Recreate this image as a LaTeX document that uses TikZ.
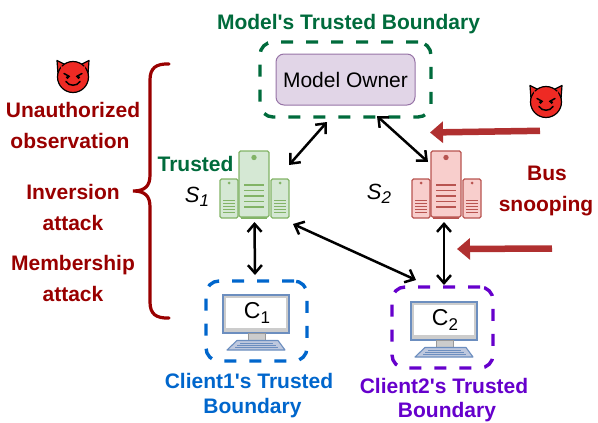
\documentclass[tikz,border=0pt]{standalone}
\usepackage{fontspec}
\setmainfont{Liberation Sans}
\newfontfamily\lib{Liberation Sans}
\usetikzlibrary{arrows.meta,calc}
\definecolor{gb}{HTML}{006B3C}
\definecolor{bb}{HTML}{0066CC}
\definecolor{pb}{HTML}{6600CC}
\definecolor{rt}{HTML}{990000}
\definecolor{gfill}{HTML}{D5E8D4}
\definecolor{gline}{HTML}{82B366}
\definecolor{rfill}{HTML}{F8CECC}
\definecolor{rline}{HTML}{B85450}
\definecolor{pfill}{HTML}{E1D5E7}
\definecolor{pline}{HTML}{9673A6}
\definecolor{mgray}{HTML}{CCCCCC}
\definecolor{kfill}{HTML}{BEC8DE}
\definecolor{mline}{HTML}{6C8EBF}
\definecolor{devilred}{HTML}{EE2A24}
\definecolor{attack}{HTML}{B03030}
\tikzset{
  lbl/.style={font=\bfseries\fontsize{#1}{#1}\selectfont,inner sep=0pt,align=center,anchor=center,text height=15pt,text depth=1pt},
  bound/.style={draw=#1,line width=3.4pt,dash pattern=on 12pt off 13pt,rounded corners=13pt,inner sep=0pt,outer sep=0pt},
  area/.style={inner sep=0pt,outer sep=0pt},
  link/.style={{Straight Barb[length=8pt,width=14pt]}-{Straight Barb[length=8pt,width=14pt]},line width=2.5pt,black},
  attackarrow/.style={line width=6.5pt,attack,-{Triangle[length=13pt,width=21pt]}},
  pics/server/.style n args={2}{code={
    \fill[#2] (21,62) rectangle (47,68);
    \draw[fill=#1,draw=#2,line width=1.2pt,rounded corners=1.5pt] (19,0) rectangle (49,66);
    \draw[fill=#1,draw=#2,line width=1.2pt,rounded corners=1.5pt] (0,28) rectangle (18,67);
    \draw[fill=#1,draw=#2,line width=1.2pt,rounded corners=1.5pt] (51,28) rectangle (69,67);
    \fill[#2] (34,6.5) circle (2.7);
    \fill[#2] (9,32) circle (1.5);
    \fill[#2] (60,32) circle (1.5);
    \foreach \yy in {34,39.5,45,50.5,56} \draw[#2,line width=1.2pt] (24,\yy) -- (44,\yy);
    \foreach \yy in {49,52.2,55.4,58.6,61.8} {\draw[#2,line width=.8pt] (3,\yy) -- (15,\yy); \draw[#2,line width=.8pt] (54,\yy) -- (66,\yy);}
  }},
  pics/computer/.style={code={
    \draw[fill=mgray,draw=mline,line width=1.2pt] (0,0) rectangle (66,38);
    \fill[white] (3,3) rectangle (63,33);
    \draw[fill=mgray,draw=gray!80,line width=.8pt] (25,38) rectangle (42,45.5);
    \draw[fill=kfill,draw=mline,line width=1.1pt,line join=round] (14,45.5) -- (55,45.5) -- (62,55) -- (4,55) -- cycle;
    \foreach \yy/\aa/\bb in {48/17/50,50.5/14/53,52.8/12/55}
      \draw[mline,line width=.7pt] (\aa,\yy) -- (\bb,\yy);
  }},
  pics/devil/.style={code={
    \draw[fill=devilred,draw=black,line width=1.2pt,line join=round]
      (-16,-16.5) -- (-8,-12.5) -- (8,-12.5) -- (16,-16.5) -- (15,-3) -- (8,-3) -- (-8,-3) -- (-15,-3) -- cycle;
    \draw[fill=devilred,draw=black,line width=1.2pt] (0,0) circle (15.5);
    \fill[devilred] (-12,-11) -- (-7,-8) -- (7,-8) -- (12,-11) -- (12,-4) -- (-12,-4) -- cycle;
    \draw[line width=1.5pt,black,line cap=round] (-9,-3.5) -- (-3.5,-.5);
    \draw[line width=1.5pt,black,line cap=round] (9,-3.5) -- (3.5,-.5);
    \fill[black] (-5.5,.3) circle (1.7);
    \fill[black] (5.5,.3) circle (1.7);
    \draw[line width=1.5pt,black,line cap=round] (-7,4.5) .. controls (-4,9.5) and (4,9.5) .. (7,4.5);
  }}
}
\begin{document}
\begin{tikzpicture}[x=1pt,y=-1pt]
\lib
\useasboundingbox (0,0) rectangle (598,423);
% areas
\node[bound=gb,minimum width=171pt,minimum height=75pt] (modelb) at (345.5,79.5) {};
\node[draw=pline,fill=pfill,line width=1pt,rounded corners=8pt,minimum width=139pt,minimum height=51pt,inner sep=0pt,font=\fontsize{21}{21}\selectfont] (owner) at (345.5,79.5) {Model Owner};
\node[bound=bb,minimum width=101pt,minimum height=80pt] (c1b) at (256.5,321) {};
\node[bound=pb,minimum width=101pt,minimum height=81pt] (c2b) at (442.5,327.5) {};
\node[area,minimum width=69pt,minimum height=68pt] (s1) at (254.5,185) {};
\node[area,minimum width=69pt,minimum height=68pt] (s2) at (446.5,185) {};
% servers
\pic at (220,151) {server={gfill}{gline}};
\pic at (412,151) {server={rfill}{rline}};
% computers
\pic at (223,295) {computer};
\pic at (411,302) {computer};
\node[inner sep=0pt,font=\fontsize{23}{23}\selectfont] (c1) at (257,313) {C{\fontsize{17}{17}\selectfont\raisebox{-5pt}{1}}};
\node[inner sep=0pt,font=\fontsize{23}{23}\selectfont] (c2) at (445,320) {C{\fontsize{17}{17}\selectfont\raisebox{-5pt}{2}}};
% connectors
\draw[link] ([shift={(0,3)}]s1.south) -- ([shift={(-1.5,-6)}]c1b.north);
\draw[link] ([shift={(-2.5,3)}]s2.south) -- ([shift={(1.5,-2)}]c2b.north);
\draw[link] ([shift={(0,14)}]s1.north east) -- ([shift={(-18.5,5)}]modelb.south);
\draw[link] ([shift={(16,11)}]s2.north west) -- ([shift={(31.5,-1)}]modelb.south);
\draw[link] ([shift={(4,5)}]s1.south east) -- ([shift={(24,-7)}]c2b.north west);
% attack arrows
\coordinate (t1) at (540,130.8);
\coordinate (h1) at (430,132.5);
\coordinate (t2) at (552,248.5);
\coordinate (h2) at (457,249);
\draw[attackarrow] (t1) -- (h1);
\draw[attackarrow] (t2) -- (h2);
% brace
\draw[rt,line width=3.2pt,line cap=round] (169,64) .. controls (156,63.5) and (150,68) .. (150,80) -- (150,175)
  .. controls (150,186) and (145,191) .. (133,191) .. controls (145,191) and (150,196) .. (150,207) -- (150,302)
  .. controls (150,314) and (156,318.5) .. (169,318);
% devils
\pic at (73,77) {devil};
\pic at (546,102) {devil};
% labels
\node[lbl=21,text=gb] (t0) at (348.5,23) {Model's Trusted Boundary};
\node[lbl=21,text=rt] (a1) at (73,110) {Unauthorized};
\node[lbl=21,text=rt] (a2) at (70,141) {observation};
\node[lbl=21,text=rt] (a3) at (73,192) {Inversion};
\node[lbl=21,text=rt] (a4) at (73,223) {attack};
\node[lbl=21,text=rt] (a5) at (73,263) {Membership};
\node[lbl=21,text=rt] (a6) at (73,294) {attack};
\node[lbl=21,text=gb] (tr) at (195.5,164) {Trusted};
\node[inner sep=0pt,font=\itshape\fontsize{22}{22}\selectfont] (sl1) at (197,197) {S{\fontsize{17}{17}\selectfont\raisebox{-4pt}{1}}};
\node[inner sep=0pt,font=\itshape\fontsize{22}{22}\selectfont] (sl2) at (379,194) {S{\fontsize{17}{17}\selectfont\raisebox{-4pt}{2}}};
\node[lbl=21,text=rt] (b1) at (547,173) {Bus};
\node[lbl=21,text=rt] (b2) at (546,204) {snooping};
\node[lbl=21,text=bb] (l1) at (249,381) {Client1's Trusted};
\node[lbl=21,text=bb] (l2) at (252.5,406) {Boundary};
\node[lbl=21,text=pb] (l3) at (444,386) {Client2's Trusted};
\node[lbl=21,text=pb] (l4) at (447,410) {Boundary};
\end{tikzpicture}
\end{document}
